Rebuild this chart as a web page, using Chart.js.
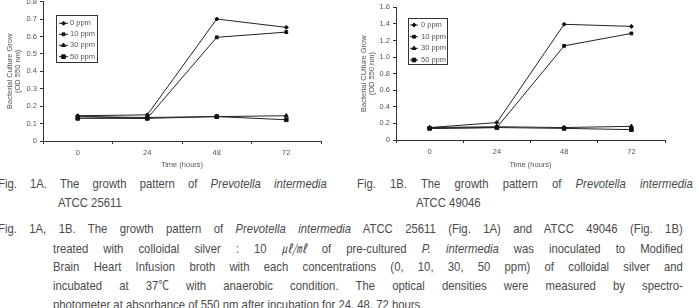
<!DOCTYPE html>
<html>
<head>
<meta charset="utf-8">
<script src="https://cdn.jsdelivr.net/npm/chart.js@4.4.1/dist/chart.umd.min.js"></script>
<style>
html, body { margin: 0; padding: 0; background: #fff; width: 699px; height: 308px; overflow: hidden; position: relative; }
canvas { position: absolute; top: -8px; }
#grafA { left: 0; }
#grafB { left: 350px; }
/* letra estrecha: Liberation Sans comprimida en horizontal */
.cap { position: absolute; font-family: "Liberation Sans", Arial, sans-serif; font-size: 13px; color: #4a4a4a; line-height: 18px; height: 18px; text-align: justify; text-align-last: justify; transform-origin: 0 0; transform: scaleX(0.87); }
.cap.sin { text-align: left; text-align-last: left; white-space: nowrap; }
.cjk { font-family: "Noto Sans CJK KR", sans-serif; font-size: 12px; display: inline-block; white-space: nowrap; }
</style>
</head>
<body>
<canvas id="grafA" width="350" height="180"></canvas>
<canvas id="grafB" width="349" height="180"></canvas>

<div class="cap" style="left:-2px; width:378px; top:175px;">Fig. 1A. The growth pattern of <i>Prevotella intermedia</i></div>
<div class="cap sin" style="left:58px; top:194px;">ATCC 25611</div>
<div class="cap" style="left:357px; width:386px; top:175px;">Fig. 1B. The growth pattern of <i>Prevotella intermedia</i></div>
<div class="cap sin" style="left:416px; top:194px;">ATCC 49046</div>

<div class="cap" style="left:-2px; width:787px; top:220px;">Fig. 1A, 1B. The growth pattern of <i>Prevotella intermedia</i> ATCC 25611 (Fig. 1A) and ATCC 49046 (Fig. 1B)</div>
<div class="cap" style="left:53px; width:724px; top:239px;">treated with colloidal silver : 10 <i class="cjk">㎕/㎖</i> of pre-cultured <i>P. intermedia</i> was inoculated to Modified</div>
<div class="cap" style="left:53px; width:724px; top:258px;">Brain Heart Infusion broth with each concentrations (0, 10, 30, 50 ppm) of colloidal silver and</div>
<div class="cap" style="left:53px; width:724px; top:276px;">incubated at <span class="cjk" style="font-family:'Liberation Sans', Arial, sans-serif; font-size:13px;">37<span style="font-family:'Noto Sans CJK KR', sans-serif; font-size:12px;">℃</span></span> with anaerobic condition. The optical densities were measured by spectro-</div>
<div class="cap sin" style="left:53px; top:296px;">photometer at absorbance of 550 nm after incubation for 24, 48, 72 hours.</div>

<script>
// Datos
const etiquetasX = ['0', '24', '48', '72'];
const nombresSeries = ['0 ppm', '10 ppm', '30 ppm', '50 ppm'];

// Fig. 1A (ATCC 25611)
const a0ppm = [0.145, 0.15, 0.70, 0.652];
const a10ppm = [0.14, 0.13, 0.595, 0.625];
const a30ppm = [0.14, 0.135, 0.14, 0.145];
const a50ppm = [0.13, 0.13, 0.14, 0.122];

// Fig. 1B (ATCC 49046)
const b0ppm = [0.15, 0.21, 1.395, 1.37];
const b10ppm = [0.14, 0.15, 1.135, 1.285];
const b30ppm = [0.15, 0.16, 0.15, 0.165];
const b50ppm = [0.14, 0.15, 0.14, 0.125];

const marcas = ['rectRot', 'rect', 'triangle', 'rect'];
const radios = [2, 2, 2.3, 2.6];

Chart.defaults.font.family = '"Liberation Sans", Arial, sans-serif';

// Leyenda con recuadro dentro del area del grafico
const leyendaCaja = {
    id: 'leyendaCaja',
    afterDraw(chart, args, op) {
        const ctx = chart.ctx;
        ctx.save();
        ctx.strokeStyle = '#333';
        ctx.lineWidth = 1;
        ctx.strokeRect(op.x + 0.5, op.y + 0.5, op.w, op.h);
        ctx.font = '7.5px "Liberation Sans", Arial, sans-serif';
        ctx.textBaseline = 'middle';
        ctx.textAlign = 'left';
        chart.data.datasets.forEach((ds, i) => {
            const y = op.filas[i];
            ctx.strokeStyle = '#222';
            ctx.beginPath();
            ctx.moveTo(op.x + op.l1, y);
            ctx.lineTo(op.x + op.l2, y);
            ctx.stroke();
            ctx.fillStyle = '#111';
            ctx.strokeStyle = '#111';
            if (Chart.helpers && Chart.helpers.drawPoint) {
                Chart.helpers.drawPoint(ctx, { pointStyle: ds.pointStyle, radius: ds.pointRadius, borderWidth: 1, rotation: 0 }, op.x + (op.l1 + op.l2) / 2, y);
            }
            ctx.fillStyle = '#555';
            ctx.fillText(ds.label, op.texto, y);
        });
        ctx.restore();
    }
};

function crearGrafico(id, valores, maxY, paso, tituloY, caja) {
    const datasets = valores.map((v, i) => ({
        label: nombresSeries[i],
        data: v,
        borderColor: '#222',
        borderWidth: 1,
        pointStyle: marcas[i],
        pointRadius: radios[i],
        pointBackgroundColor: '#111',
        pointBorderColor: '#111',
        pointBorderWidth: 1,
        tension: 0,
        fill: false
    }));

    return new Chart(document.getElementById(id), {
        type: 'line',
        data: { labels: etiquetasX, datasets: datasets },
        options: {
            responsive: false,
            animation: false,
            devicePixelRatio: 1,
            layout: { padding: { top: caja.top, right: caja.right, left: 0, bottom: 0 } },
            plugins: {
                legend: { display: false },
                tooltip: { enabled: false },
                leyendaCaja: caja.leyenda
            },
            scales: {
                x: {
                    offset: true,
                    border: { color: '#333', width: 1 },
                    grid: { offset: true, drawOnChartArea: false, tickLength: 3, color: '#333' },
                    ticks: { color: '#555', font: { size: 7.5 }, padding: 4, maxRotation: 0 },
                    title: { display: true, text: 'Time (hours)', color: '#555', font: { size: 7.5 }, padding: { top: 0, bottom: 2.5 } },
                    afterFit: (s) => { s.height = caja.altoX; }
                },
                y: {
                    min: 0,
                    max: maxY,
                    border: { color: '#333', width: 1 },
                    grid: { drawOnChartArea: false, tickLength: 3, color: '#333' },
                    ticks: { stepSize: paso, color: '#555', font: { size: 7.5 }, padding: 3 },
                    title: { display: true, text: tituloY, color: '#555', font: { size: 7.5, lineHeight: 1.05 }, padding: { top: caja.tituloY, bottom: 0 } },
                    afterFit: (s) => { s.width = caja.anchoY; }
                }
            }
        },
        plugins: [leyendaCaja]
    });
}

crearGrafico('grafA', [a0ppm, a10ppm, a30ppm, a50ppm], 0.8, 0.1,
    ['Bacterial Culture Grow', '(OD 550 nm)'],
    { top: 9.6, right: 29, altoX: 31, anchoY: 43, tituloY: 6,
      leyenda: { x: 56, y: 23, w: 41, h: 47, l1: 3, l2: 12, texto: 70, filas: [31.3, 42.3, 53.3, 64.7] } });

crearGrafico('grafB', [b0ppm, b10ppm, b30ppm, b50ppm], 1.6, 0.2,
    ['Bacterial CUlture Grow', '(OD 550 nm)'],
    { top: 15.3, right: 34, altoX: 32, anchoY: 46, tituloY: 10,
      leyenda: { x: 58, y: 26, w: 39, h: 46, l1: 2, l2: 10, texto: 71, filas: [33, 44.7, 56.3, 68] } });
</script>
</body>
</html>
